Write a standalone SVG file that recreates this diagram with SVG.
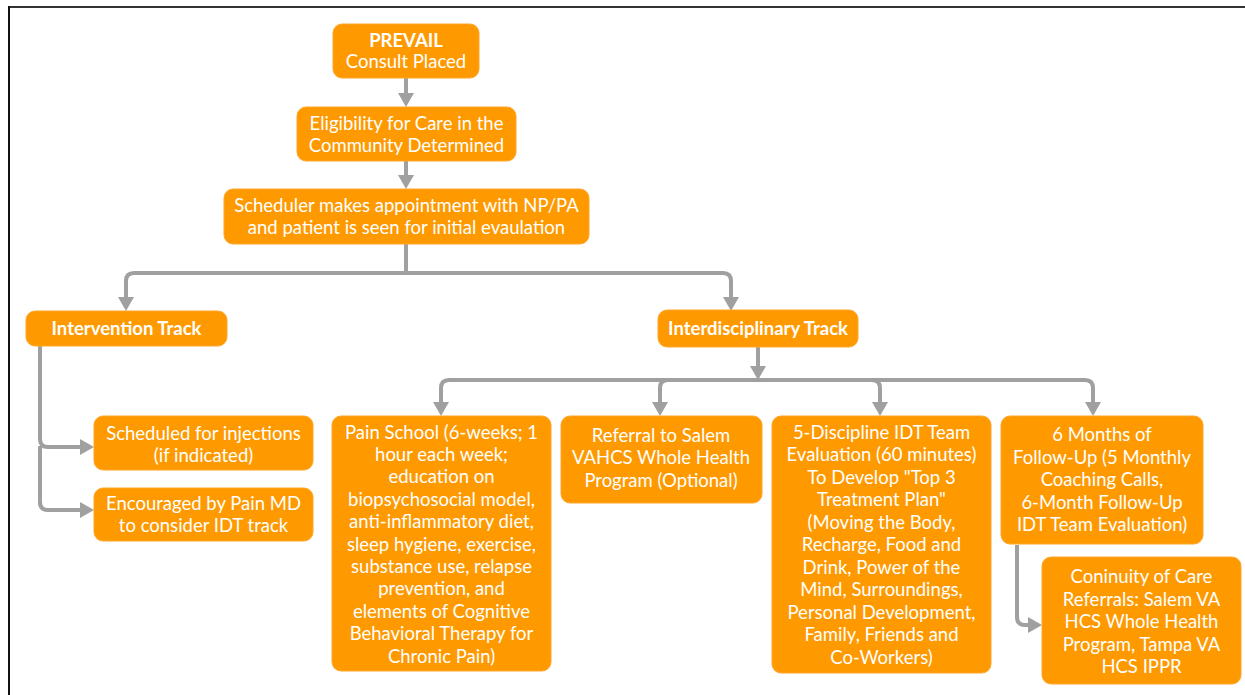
<svg xmlns="http://www.w3.org/2000/svg" width="1245" height="695" viewBox="0 0 1245 695">
<defs>
<style>
.box{fill:#FF9900;stroke:#FFA62B;stroke-width:1}
.t{font-family:Lato,"Liberation Sans",sans-serif;font-size:18.5px;fill:#FFFFFF;text-anchor:middle}
.b{font-weight:bold}
.c{fill:none;stroke:#A0A0A0;stroke-width:4}
</style>
<marker id="ah" viewBox="0 0 14 16" refX="0" refY="8" markerWidth="14" markerHeight="16" markerUnits="userSpaceOnUse" orient="auto">
<path d="M0,0 L14,8 L0,16 Z" fill="#A0A0A0"/>
</marker>
</defs>
<rect width="1245" height="695" fill="#FFFFFF"/>
<g id="frame">
<line x1="8" y1="7" x2="1245" y2="7" stroke="#333333" stroke-width="2"/>
<line x1="9" y1="6" x2="9" y2="695" stroke="#111111" stroke-width="2"/>
</g>
<g id="connectors">
<path class="c" d="M406,78 V93" marker-end="url(#ah)"/>
<path class="c" d="M406,161 V175" marker-end="url(#ah)"/>
<path class="c" d="M406,244 V273 H134 Q126,273 126,281 V297" marker-end="url(#ah)"/>
<path class="c" d="M406,273 H723 Q731,273 731,281 V297" marker-end="url(#ah)"/>
<path class="c" d="M40,346 V439 Q40,447 48,447 H80" marker-end="url(#ah)"/>
<path class="c" d="M40,446 V502 Q40,510 48,510 H80" marker-end="url(#ah)"/>
<path class="c" d="M758,347 V366" marker-end="url(#ah)"/>
<path class="c" d="M758,380 H449 Q441,380 441,388 V402" marker-end="url(#ah)"/>
<path class="c" d="M758,380 H1085 Q1093,380 1093,388 V402" marker-end="url(#ah)"/>
<path class="c" d="M668,380 Q660,380 660,388 V402" marker-end="url(#ah)"/>
<path class="c" d="M872,380 Q880,380 880,388 V402" marker-end="url(#ah)"/>
<path class="c" d="M1017,545 V617 Q1017,625 1025,625 H1028" marker-end="url(#ah)"/>
</g>
<g id="n-prevail">
<rect class="box" x="333" y="24" width="146" height="54" rx="9"/>
<text class="t b" x="406" y="46.5">PREVAIL</text>
<text class="t" x="406" y="67.5">Consult Placed</text>
</g>
<g id="n-eligibility">
<rect class="box" x="297" y="107" width="219" height="54" rx="9"/>
<text class="t" x="406.5" y="129.5">Eligibility for Care in the</text>
<text class="t" x="406.5" y="151.5">Community Determined</text>
</g>
<g id="n-scheduler">
<rect class="box" x="224" y="189" width="365" height="55" rx="9"/>
<text class="t" x="406.5" y="211.5">Scheduler makes appointment with NP/PA</text>
<text class="t" x="406.5" y="233.5">and patient is seen for initial evaulation</text>
</g>
<g id="n-intervention">
<rect class="box" x="26" y="311" width="201" height="35" rx="9"/>
<text class="t b" x="126.5" y="334.5">Intervention Track</text>
</g>
<g id="n-interdisciplinary">
<rect class="box" x="658" y="310" width="200" height="37" rx="9"/>
<text class="t b" x="758" y="334.5">Interdisciplinary Track</text>
</g>
<g id="n-injections">
<rect class="box" x="94" y="416" width="219" height="54" rx="9"/>
<text class="t" x="203.5" y="439.5">Scheduled for injections</text>
<text class="t" x="203.5" y="461.5">(if indicated)</text>
</g>
<g id="n-encouraged">
<rect class="box" x="94" y="488" width="219" height="53" rx="9"/>
<text class="t" x="203.5" y="509.5">Encouraged by Pain MD</text>
<text class="t" x="203.5" y="531.5">to consider IDT track</text>
</g>
<g id="n-painschool">
<rect class="box" x="332" y="416" width="219" height="255" rx="9"/>
<text class="t" x="441.5" y="438.5">Pain School (6-weeks; 1</text>
<text class="t" x="441.5" y="460.9">hour each week;</text>
<text class="t" x="441.5" y="483.3">education on</text>
<text class="t" x="441.5" y="505.7">biopsychosocial model,</text>
<text class="t" x="441.5" y="528.1">anti-inflammatory diet,</text>
<text class="t" x="441.5" y="550.5">sleep hygiene, exercise,</text>
<text class="t" x="441.5" y="572.9">substance use, relapse</text>
<text class="t" x="441.5" y="595.3">prevention, and</text>
<text class="t" x="441.5" y="617.7">elements of Cognitive</text>
<text class="t" x="441.5" y="640.1">Behavioral Therapy for</text>
<text class="t" x="441.5" y="662.5">Chronic Pain)</text>
</g>
<g id="n-referral">
<rect class="box" x="561" y="416" width="201" height="87" rx="9"/>
<text class="t" x="661" y="441.5">Referral to Salem</text>
<text class="t" x="661" y="464">VAHCS Whole Health</text>
<text class="t" x="661" y="486.5">Program (Optional)</text>
</g>
<g id="n-fivediscipline">
<rect class="box" x="772" y="416" width="219" height="257" rx="9"/>
<text class="t" x="881.5" y="438.5">5-Discipline IDT Team</text>
<text class="t" x="881.5" y="461">Evaluation (60 minutes)</text>
<text class="t" x="881.5" y="483.5">To Develop "Top 3</text>
<text class="t" x="881.5" y="506">Treatment Plan"</text>
<text class="t" x="881.5" y="528.5">(Moving the Body,</text>
<text class="t" x="881.5" y="551">Recharge, Food and</text>
<text class="t" x="881.5" y="573.5">Drink, Power of the</text>
<text class="t" x="881.5" y="596">Mind, Surroundings,</text>
<text class="t" x="881.5" y="618.5">Personal Development,</text>
<text class="t" x="881.5" y="641">Family, Friends and</text>
<text class="t" x="881.5" y="663.5">Co-Workers)</text>
</g>
<g id="n-followup">
<rect class="box" x="1001" y="416" width="202" height="128" rx="9"/>
<text class="t" x="1102" y="441">6 Months of</text>
<text class="t" x="1102" y="463.5">Follow-Up (5 Monthly</text>
<text class="t" x="1102" y="486">Coaching Calls,</text>
<text class="t" x="1102" y="508.5">6-Month Follow-Up</text>
<text class="t" x="1102" y="531">IDT Team Evaluation)</text>
</g>
<g id="n-continuity">
<rect class="box" x="1042" y="557" width="199" height="127" rx="9"/>
<text class="t" x="1141.5" y="583">Coninuity of Care</text>
<text class="t" x="1141.5" y="605.5">Referrals: Salem VA</text>
<text class="t" x="1141.5" y="628">HCS Whole Health</text>
<text class="t" x="1141.5" y="650.5">Program, Tampa VA</text>
<text class="t" x="1141.5" y="673">HCS IPPR</text>
</g>
</svg>
